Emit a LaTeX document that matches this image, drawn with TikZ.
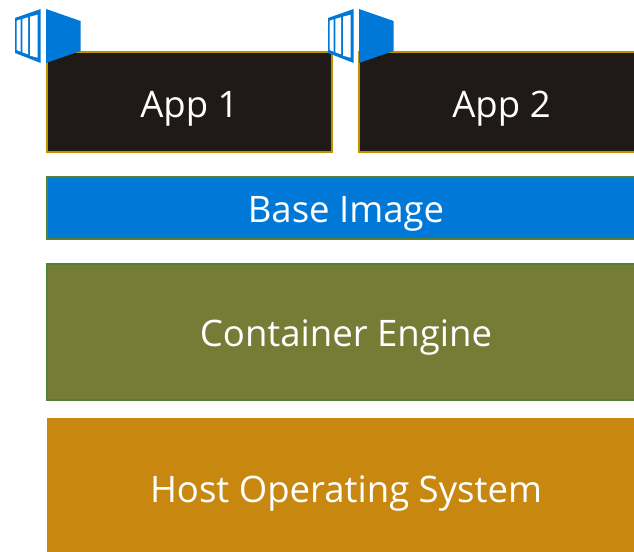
\documentclass[tikz,border=0pt]{standalone}
\usepackage{fontspec}
\setmainfont{Open Sans}
\definecolor{appfill}{HTML}{1F1A17}
\definecolor{appedge}{HTML}{BF9000}
\definecolor{baseblue}{HTML}{0078D7}
\definecolor{layeredge}{HTML}{548235}
\definecolor{enginefill}{HTML}{767B36}
\definecolor{hostfill}{HTML}{C8880F}
\tikzset{
	layerbox/.style={anchor=north west, inner sep=0, outer sep=0, text=white, text depth=0pt, font=\fontsize{27.4}{32}\selectfont},
	appbox/.style={layerbox, text height=23pt, draw=appedge, line width=1.5pt, fill=appfill, minimum width=213.75pt, minimum height=75pt},
	widebox/.style={layerbox, text height=21.5pt, draw=layeredge, line width=1.5pt, minimum width=448.5pt},
	pics/shipicon/.style={code={
		\fill[baseblue] (15, 18) -- (40.7, 9) -- (40.7, 63) -- (15, 53) -- cycle;
		\fill[white] (16.7, 20.7) -- (20.7, 19.3) -- (20.7, 51.7) -- (16.7, 50) -- cycle;
		\fill[white] (22.3, 19) -- (28, 17.3) -- (28, 54.3) -- (22.3, 52.3) -- cycle;
		\fill[white] (30, 16.7) -- (37.7, 14.7) -- (37.7, 57.7) -- (30, 55.7) -- cycle;
		\fill[baseblue] (46, 9) -- (80.5, 21) -- (80.5, 51) -- (46, 63) -- cycle;
	}}
}

\begin{document}
\begin{tikzpicture}[x=0.75pt, y=-0.75pt]
	%%%%% START %%%%%
	\clip (0, 0) rectangle (634, 552);
	\fill[white] (0, 0) rectangle (634, 552);
	
	\node[appbox] (app1) at (47, 52) {App 1};
	\node[appbox] (app2) at (359, 52) {App 2};
	
	\pic at (0, 0) {shipicon};
	\pic at (313, 0) {shipicon};
	
	\node[widebox, fill=baseblue, minimum height=46.5pt] (base) at (47, 177) {Base Image};
	\node[widebox, fill=enginefill, minimum height=102pt] (engine) at (47, 264) {Container Engine};
	\node[layerbox, fill=hostfill, minimum width=448.5pt, minimum height=106pt] (host) at (47, 418) {Host Operating System};
	%%%%% END %%%%%
\end{tikzpicture}
\end{document}
